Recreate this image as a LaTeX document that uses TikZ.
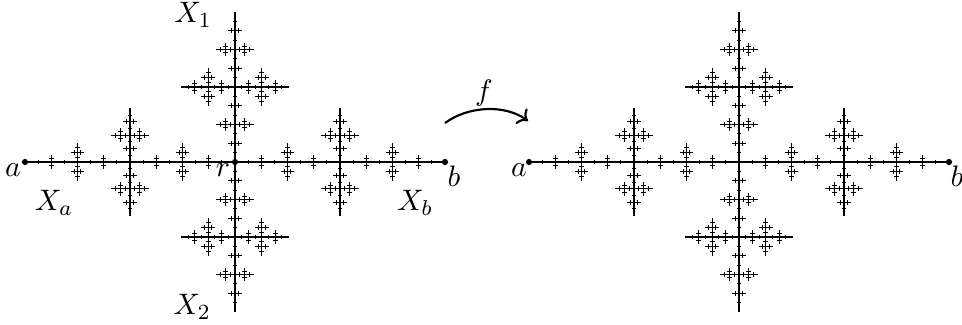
\documentclass[tikz,border=0pt]{standalone}
\usetikzlibrary{arrows.meta}
\def\fratio{0.35714}
\def\fmin{2}
\newcommand\ftree[5]{%
 \begingroup
 \pgfmathsetmacro\fX{#1}\pgfmathsetmacro\fY{#2}%
 \pgfmathsetmacro\fDX{#3}\pgfmathsetmacro\fDY{#4}\pgfmathsetmacro\fL{#5}%
 \pgfmathsetmacro\fW{min(0.85,0.35+\fL/300)}%
 \draw[line width=\fW pt] (\fX,\fY) -- ++({\fL*\fDX},{\fL*\fDY});
 \pgfmathtruncatemacro\fK{floor(ln(\fL/\fmin)/ln(1/\fratio))-1}%
 \pgfmathsetmacro\fNX{0-(\fDY)}\pgfmathsetmacro\fNY{\fDX}%
 \pgfmathsetmacro\fMX{\fDY}\pgfmathsetmacro\fMY{0-(\fDX)}%
 \ifnum\fK>-1
  \foreach \k in {0,...,\fK}{%
    \pgfmathsetmacro\fC{\fL*\fratio^(\k+1)}%
    \pgfmathtruncatemacro\fN{2^\k}%
    \foreach \j in {1,...,\fN}{%
      \pgfmathsetmacro\fT{(2*\j-1)/(2*\fN)}%
      \pgfmathsetmacro\fPX{\fX+\fT*\fL*\fDX}%
      \pgfmathsetmacro\fPY{\fY+\fT*\fL*\fDY}%
      \edef\fnext{\noexpand\ftree{\fPX}{\fPY}{\fNX}{\fNY}{\fC}\noexpand\ftree{\fPX}{\fPY}{\fMX}{\fMY}{\fC}}%
      \fnext
    }%
  }%
 \fi
 \endgroup}
\tikzset{
  dot/.style={circle,fill=black,inner sep=0pt,minimum size=2.3pt},
  lbl/.style={inner sep=0pt,font=\fontsize{11}{13}\selectfont}
}
\begin{document}
\begin{tikzpicture}[x=0.37pt,y=-0.37pt]
\useasboundingbox (0,0) rectangle (962,325);
% left copy
\ftree{25}{162}{1}{0}{420}
\node[dot] (a1) at (25,162) {};
\node[dot] (b1) at (445,162) {};
\node[dot] (r1) at (235,162) {};
\node[lbl] (la1) at (13,170) {$a$};
\node[lbl] (lb1) at (454,176) {$b$};
\node[lbl] (lr1) at (223,170) {$r$};
\node[lbl] (lx1) at (193,15) {$X_1$};
\node[lbl] (lx2) at (192,307) {$X_2$};
\node[lbl] (lxa) at (54,203) {$X_a$};
\node[lbl] (lxb) at (415,203) {$X_b$};
% right copy
\ftree{529}{162}{1}{0}{420}
\node[dot] (a2) at (529,162) {};
\node[dot] (b2) at (949,162) {};
\node[lbl] (la2) at (519,170) {$a$};
\node[lbl] (lb2) at (957,176) {$b$};
% arrow f
\coordinate (fs) at (445,123);
\coordinate (fe) at (528,121);
\draw[line width=0.8pt,->] (fs) .. controls (468,106) and (505,104) .. (fe);
\node[lbl] (lf) at (484,93) {$f$};
\end{tikzpicture}
\end{document}
